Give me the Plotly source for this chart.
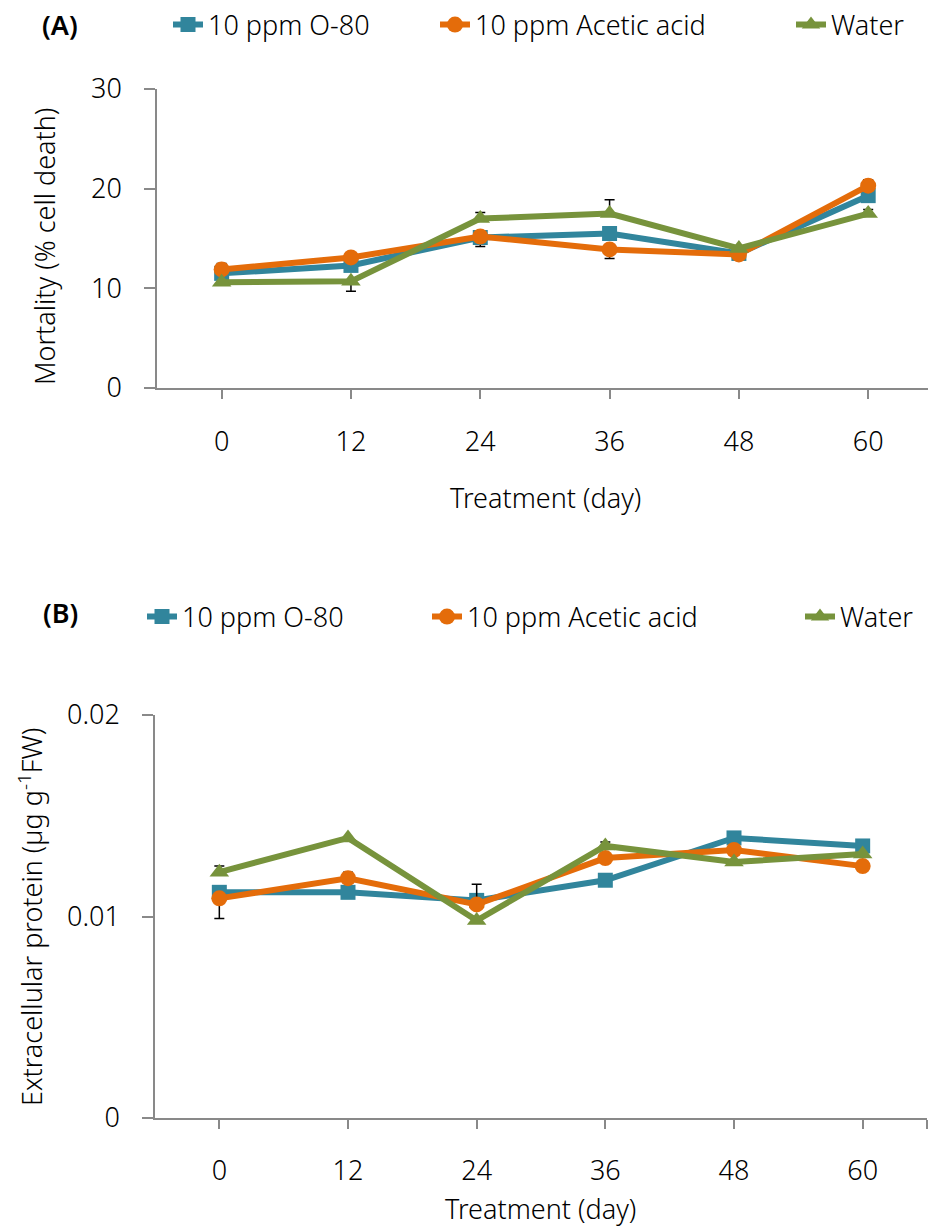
import plotly.graph_objects as go

days = [0, 12, 24, 36, 48, 60]
series_names = ["10 ppm O-80", "10 ppm Acetic acid", "Water"]
colors = ["#31859C", "#E46C0A", "#77933C"]
symbols = ["square", "circle", "triangle-up"]
marker_sizes = [15, 16, 17]

# Panel A: Mortality (% cell death)
mort_o80 = [11.5, 12.3, 15.1, 15.5, 13.5, 19.3]
mort_ace = [11.9, 13.1, 15.2, 13.9, 13.4, 20.3]
mort_wat = [10.6, 10.7, 17.0, 17.5, 14.0, 17.5]
mort_o80_plus = [0, 0, 0, 0, 0, 0]
mort_o80_minus = [0, 0, 0.9, 0, 0, 0]
mort_ace_plus = [0.6, 0, 0, 0, 0, 0.6]
mort_ace_minus = [0, 0, 0, 0.9, 0, 0]
mort_wat_plus = [0, 0, 0.6, 1.4, 0, 0.4]
mort_wat_minus = [0, 1.0, 0, 0, 0, 0]

# Panel B: Extracellular protein (ug g-1 FW)
prot_o80 = [0.0112, 0.0112, 0.0108, 0.0118, 0.0139, 0.0135]
prot_ace = [0.0109, 0.0119, 0.0106, 0.0129, 0.0133, 0.0125]
prot_wat = [0.0122, 0.0139, 0.0098, 0.0135, 0.0127, 0.0131]
prot_o80_plus = [0, 0, 0, 0, 0, 0]
prot_o80_minus = [0, 0.0003, 0, 0, 0, 0]
prot_ace_plus = [0, 0.0003, 0.0010, 0, 0, 0]
prot_ace_minus = [0.0010, 0, 0, 0, 0, 0]
prot_wat_plus = [0.0003, 0, 0, 0.0002, 0, 0]
prot_wat_minus = [0, 0, 0, 0, 0, 0]

x_tickvals_a = [0, 12, 24, 36, 48, 60]
x_ticktext_a = ["0", "12", "24", "36", "48", "60"]
x_tickvals_b = [0, 12, 24, 36, 48, 60, 66]
x_ticktext_b = ["0", "12", "24", "36", "48", "60", ""]
y_tickvals_a = [0, 10, 20, 30]
y_tickvals_b = [0, 0.01, 0.02]
y_ticktext_b = ["0", "0.01", "0.02"]

FONT = "Noto Sans"
FS = 27
WEIGHT = 300
AX = "#898989"

fig = go.Figure()

panel_a = [(mort_o80, mort_o80_plus, mort_o80_minus),
           (mort_ace, mort_ace_plus, mort_ace_minus),
           (mort_wat, mort_wat_plus, mort_wat_minus)]
panel_b = [(prot_o80, prot_o80_plus, prot_o80_minus),
           (prot_ace, prot_ace_plus, prot_ace_minus),
           (prot_wat, prot_wat_plus, prot_wat_minus)]

leg_ids_a = ["legend", "legend2", "legend3"]
leg_ids_b = ["legend4", "legend5", "legend6"]

for i, (vals, ep, em) in enumerate(panel_a):
    fig.add_trace(go.Scatter(
        x=days, y=vals, name=series_names[i], mode="lines+markers",
        line=dict(color=colors[i], width=6),
        marker=dict(symbol=symbols[i], size=marker_sizes[i], color=colors[i]),
        error_y=dict(type="data", symmetric=False, array=ep, arrayminus=em,
                     color="black", thickness=1.5, width=5),
        xaxis="x", yaxis="y", legend=leg_ids_a[i], showlegend=True))

for i, (vals, ep, em) in enumerate(panel_b):
    fig.add_trace(go.Scatter(
        x=days, y=vals, name=series_names[i], mode="lines+markers",
        line=dict(color=colors[i], width=6),
        marker=dict(symbol=symbols[i], size=marker_sizes[i], color=colors[i]),
        error_y=dict(type="data", symmetric=False, array=ep, arrayminus=em,
                     color="black", thickness=1.5, width=5),
        xaxis="x2", yaxis="y2", legend=leg_ids_b[i], showlegend=True))

W, H = 928, 1228
def px(x):
    return x / W
def py(y):
    return 1 - y / H

tfont = dict(family=FONT, size=FS, color="black", weight=WEIGHT)

axis_common = dict(showgrid=False, zeroline=False, showline=True, linecolor=AX,
                   linewidth=1.5, ticks="outside", tickcolor=AX, tickwidth=1.5,
                   tickfont=tfont, automargin=False)

fig.update_layout(
    width=W, height=H,
    showlegend=True,
    margin=dict(l=0, r=0, t=0, b=0),
    paper_bgcolor="white", plot_bgcolor="white",
    font=tfont,
    xaxis=dict(domain=[px(157), 1.0], range=[-6, 65.55], tickmode="array",
               tickvals=x_tickvals_a, ticktext=x_ticktext_a, anchor="y",
               ticklen=9, ticklabelstandoff=20, **axis_common),
    yaxis=dict(domain=[py(388), py(89)], range=[0, 30], tickmode="array",
               tickvals=y_tickvals_a, anchor="x", ticklen=11,
               ticklabelstandoff=17, **axis_common),
    xaxis2=dict(domain=[px(155), px(927)], range=[-6, 66], tickmode="array",
                tickvals=x_tickvals_b, ticktext=x_ticktext_b, anchor="y2",
                ticklen=9, ticklabelstandoff=19, **axis_common),
    yaxis2=dict(domain=[py(1118), py(715)], range=[0, 0.02], tickmode="array",
                tickvals=y_tickvals_b, ticktext=y_ticktext_b, anchor="x2",
                ticklen=11, ticklabelstandoff=17, **axis_common),
)

leg_pos = {"legend": (168, 25), "legend2": (435, 25), "legend3": (791, 25),
           "legend4": (142, 617), "legend5": (427, 617), "legend6": (800, 617)}
for lid, (lx, ly) in leg_pos.items():
    fig.update_layout({lid: dict(x=px(lx), y=py(ly), xanchor="left", yanchor="middle",
                                 orientation="h", bgcolor="rgba(0,0,0,0)",
                                 font=tfont)})

bold = dict(family=FONT, size=FS, color="black", weight=600)
annos = [
    dict(text="(A)", x=px(60), y=py(24), font=bold),
    dict(text="(B)", x=px(60), y=py(612), font=bold),
    dict(text="Treatment (day)", x=px(545), y=py(497), font=tfont),
    dict(text="Treatment (day)", x=px(540), y=py(1208), font=tfont),
    dict(text="Mortality (% cell death)", x=px(45), y=py(247), textangle=-90, font=tfont),
    dict(text="Extracellular protein (µg g<sup>-1</sup>FW)", x=px(30), y=py(917),
         textangle=-90, font=tfont),
]
for a in annos:
    fig.add_annotation(xref="paper", yref="paper", showarrow=False,
                       xanchor="center", yanchor="middle", **a)

# remove the default 8px page margin so the figure sits at the window's corner
fig.write_html("out.html", config={"displayModeBar": False},
               post_script="document.body.style.margin='0px';")
